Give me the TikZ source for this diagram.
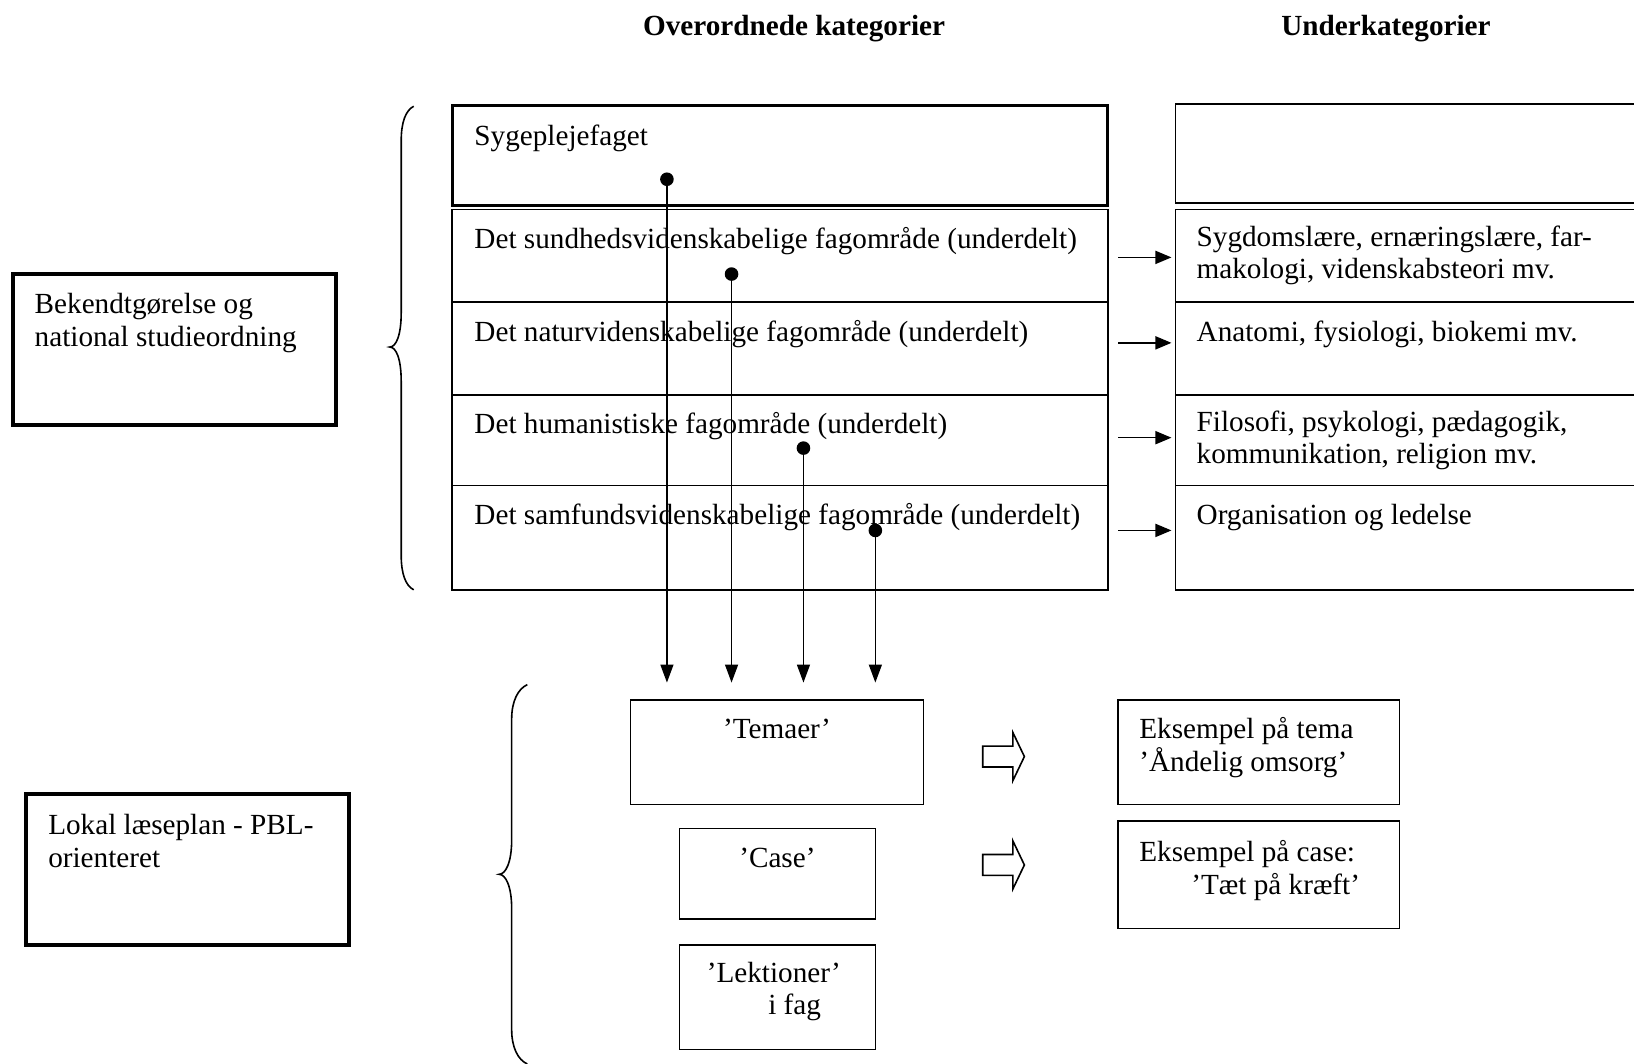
\documentclass[tikz,border=0pt]{standalone}
\usepackage{fontspec}
\setmainfont{Liberation Serif}
\usetikzlibrary{positioning, arrows.meta}

\def\u{0.521pt}

\begin{document}
\begin{tikzpicture}[x=0.521pt, y=-0.521pt,
    cell/.style = {draw, line width=0.8pt, anchor=north west, inner sep=0pt, outer sep=0pt},
    heavy/.style = {cell, line width=1.6pt},
    frame/.style = {cell, line width=2pt},
    txt/.style = {inner sep=0pt, align=left, font=\fontsize{14.6}{16.3}\selectfont, execute at begin node=\strut},
    head/.style = {anchor=base, inner sep=0pt, font=\fontsize{14.6}{16.3}\selectfont\bfseries},
    dot/.style = {circle, fill, inner sep=0pt, minimum size=6.8pt},
    vline/.style = {line width=0.7pt, -{Triangle[length=9pt, width=6.5pt]}},
    sidearrow/.style = {line width=0.8pt, -{Triangle[length=8pt, width=6.5pt]}, shorten >=2pt},
    hollow/.style = {draw, line width=0.8pt, fill=white},
    brace/.style = {draw, line width=0.8pt}]
    \useasboundingbox (0,0) rectangle (1568,1021);

    % headings
    \node[head] (hover) at (762,34) {Overordnede kategorier};
    \node[head] (hunder) at (1330,34) {Underkategorier};

    % left frames
    \node[frame, minimum width=310*\u, minimum height=145*\u] (bek) at (12,263) {};
    \node[frame, minimum width=310*\u, minimum height=145*\u] (lok) at (25,762) {};
    \node[txt, below right=9.6pt and 10.9pt of bek.north west] (bektxt) {Bekendtgørelse og\\national studieordning};
    \node[txt, below right=10.1pt and 10.9pt of lok.north west] (loktxt) {Lokal læseplan - PBL-\\orienteret};

    % main categories
    \node[heavy, minimum width=629*\u, minimum height=96*\u] (sy) at (434,101) {};
    \node[cell, minimum width=629*\u, minimum height=89*\u] (sund) at (434,201) {};
    \node[cell, minimum width=629*\u, minimum height=89*\u] (natur) at (434,290) {};
    \node[cell, minimum width=629*\u, minimum height=87*\u] (human) at (434,379) {};
    \node[cell, minimum width=629*\u, minimum height=100*\u] (samf) at (434,466) {};

    \node[txt, below right=8.4pt and 10.9pt of sy.north west] (sytxt) {Sygeplejefaget};
    \node[txt, below right=7.9pt and 10.9pt of sund.north west] (sundtxt) {Det sundhedsvidenskabelige fagområde (underdelt)};
    \node[txt, below right=7.9pt and 10.9pt of natur.north west] (naturtxt) {Det naturvidenskabelige fagområde (underdelt)};
    \node[txt, below right=7.6pt and 10.9pt of human.north west] (humantxt) {Det humanistiske fagområde (underdelt)};
    \node[txt, below right=7.6pt and 10.9pt of samf.north west] (samftxt) {Det samfundsvidenskabelige fagområde (underdelt)};

    % sub categories
    \node[cell, minimum width=460*\u, minimum height=95*\u] (subtop) at (1128,100) {};
    \node[cell, minimum width=460*\u, minimum height=89*\u] (sub1) at (1128,201) {};
    \node[cell, minimum width=460*\u, minimum height=89*\u] (sub2) at (1128,290) {};
    \node[cell, minimum width=460*\u, minimum height=87*\u] (sub3) at (1128,379) {};
    \node[cell, minimum width=460*\u, minimum height=100*\u] (sub4) at (1128,466) {};

    \node[txt, below right=7.9pt and 10.4pt of sub1.north west] (sub1txt) {Sygdomslære, ernæringslære, far-\\makologi, videnskabsteori mv.};
    \node[txt, below right=7.9pt and 10.4pt of sub2.north west] (sub2txt) {Anatomi, fysiologi, biokemi mv.};
    \node[txt, below right=7.6pt and 10.4pt of sub3.north west] (sub3txt) {Filosofi, psykologi, pædagogik,\\kommunikation, religion mv.};
    \node[txt, below right=7.6pt and 10.4pt of sub4.north west] (sub4txt) {Organisation og ledelse};

    \foreach \b/\y [count=\i] in {sub1/247, sub2/329, sub3/420, sub4/509} {
        \coordinate (s\i) at (1073,\y);
        \draw[sidearrow] (s\i) -- (\b.west |- s\i);
    }

    % braces
    \draw[brace] (397,102) .. controls (389,106) and (385,118) .. (385,135) -- (385,300)
        .. controls (385,322) and (380,333) .. (374,333)
        .. controls (380,333) and (385,344) .. (385,366) -- (385,533)
        .. controls (385,550) and (389,562) .. (397,566);
    \draw[brace] (506,657) .. controls (497,661) and (491,673) .. (491,690) -- (491,806)
        .. controls (491,828) and (485,839) .. (479,839)
        .. controls (485,839) and (491,850) .. (491,872) -- (491,988)
        .. controls (491,1005) and (497,1017) .. (506,1021);

    % local plan
    \node[cell, minimum width=281*\u, minimum height=100*\u] (tm) at (605,672) {};
    \node[cell, minimum width=188*\u, minimum height=87*\u] (cs) at (652,795) {};
    \node[cell, minimum width=188*\u, minimum height=100*\u] (lk) at (652,907) {};
    \node[txt, below=7.6pt of tm.north] (tmtxt) {’Temaer’};
    \node[txt, below=7.9pt of cs.north] (cstxt) {’Case’};
    \node[txt, below right=8.1pt and 13.5pt of lk.north west] (lktxt) {’Lektioner’\\\hspace*{30.7pt}i fag};

    \node[cell, minimum width=270*\u, minimum height=100*\u] (ex1) at (1073,672) {};
    \node[cell, minimum width=270*\u, minimum height=103*\u] (ex2) at (1073,788) {};
    \node[txt, below right=8.3pt and 10.4pt of ex1.north west] (ex1txt) {Eksempel på tema\\’Åndelig omsorg’};
    \node[txt, below right=9.6pt and 10.4pt of ex2.north west] (ex2txt) {Eksempel på case:\\\hspace*{26pt}’Tæt på kræft’};

    \foreach \c in {726, 830}
        \draw[hollow] (943,\c-10) -- (972,\c-10) -- (972,\c-23) -- (983,\c)
            -- (972,\c+23) -- (972,\c+10) -- (943,\c+10) -- cycle;

    % links down to the themes
    \foreach \n/\x/\y in {1/640/172, 2/702/263, 3/771/430, 4/840/509} {
        \node[dot] (d\n) at (\x,\y) {};
        \coordinate (a\n) at (\x,655);
        \draw[vline] (d\n.center) -- (a\n);
    }
\end{tikzpicture}
\end{document}
